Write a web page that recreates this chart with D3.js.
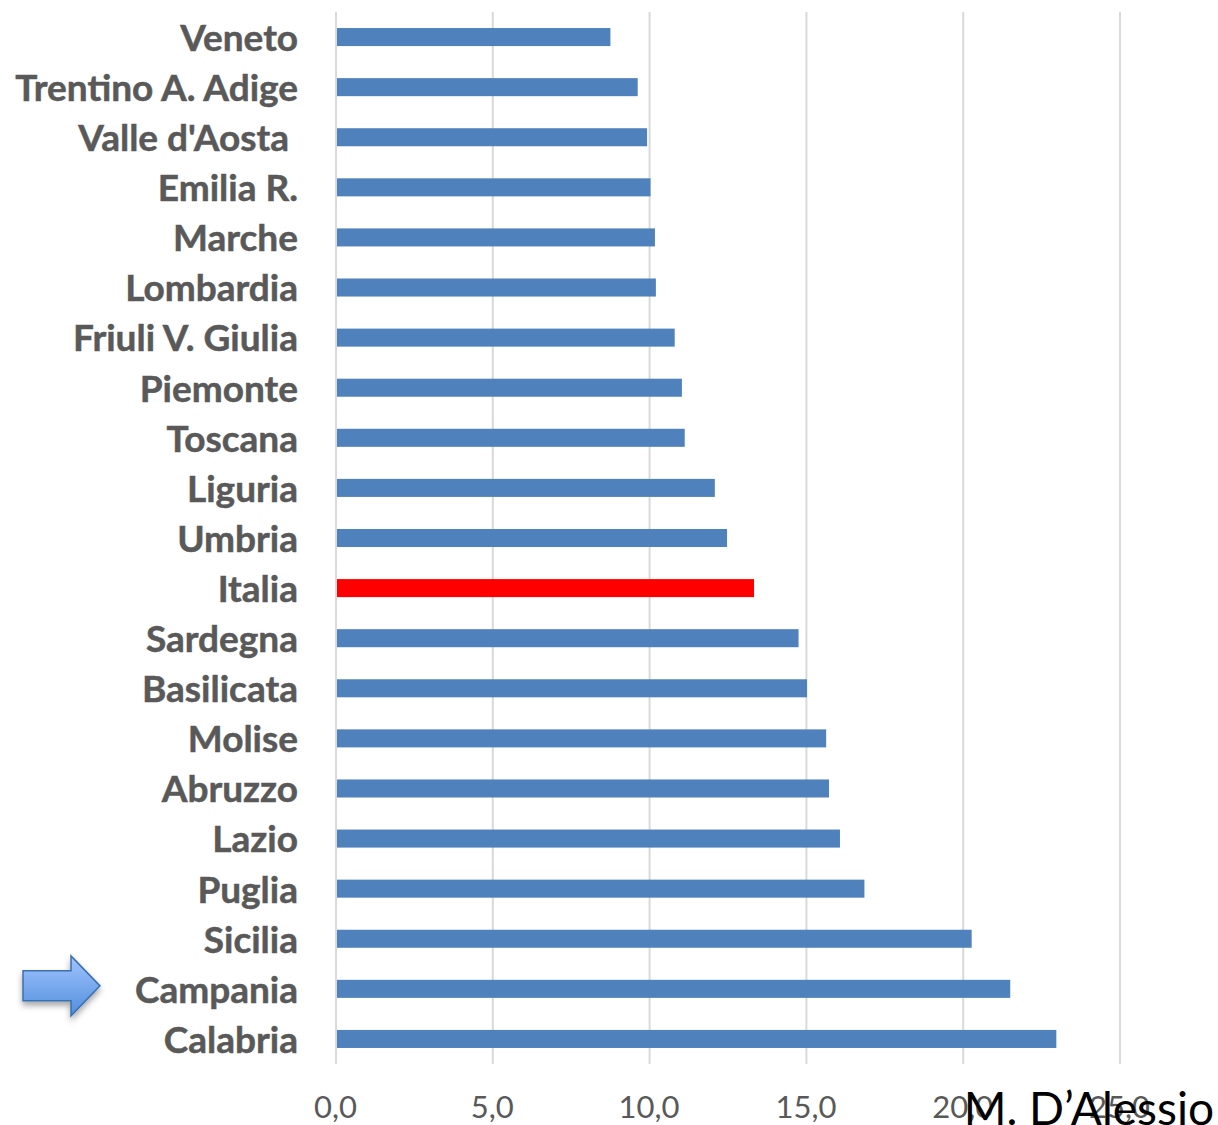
<!DOCTYPE html>
<html>
<head>
<meta charset="utf-8">
<script src="https://cdn.jsdelivr.net/npm/d3@7"></script>
<style>
  html, body { margin: 0; padding: 0; background: #fff; }
  svg { display: block; }
  text { font-family: Lato, "Open Sans", sans-serif; }
</style>
</head>
<body>
<script>
var regions = ["Veneto", "Trentino A. Adige", "Valle d'Aosta ", "Emilia R.", "Marche", "Lombardia",
  "Friuli V. Giulia", "Piemonte", "Toscana", "Liguria", "Umbria", "Italia", "Sardegna", "Basilicata",
  "Molise", "Abruzzo", "Lazio", "Puglia", "Sicilia", "Campania", "Calabria"];
var values = [8.75, 9.62, 9.92, 10.03, 10.17, 10.2, 10.8, 11.03, 11.12, 12.08, 12.47, 13.33, 14.75, 15.02,
  15.63, 15.72, 16.07, 16.85, 20.27, 21.5, 22.97];
var xTicks = [0, 5, 10, 15, 20, 25];
var highlighted = "Italia";
var pointedAt = "Campania";
var credit = "M. D’Alessio";

var width = 1218;
var height = 1125;

var svg = d3.select("body")
  .append("svg")
    .attr("width", width)
    .attr("height", height);

var x = d3.scaleLinear()
  .domain([0, 25])
  .range([336, 1120]);

var y = d3.scaleBand()
  .domain(regions)
  .range([12, 1064])
  .paddingInner(0.64)
  .paddingOuter(0.32);

// gridlines
svg.append("g")
  .selectAll("line")
    .data(xTicks)
  .enter().append("line")
    .attr("x1", function(d) { return x(d); })
    .attr("x2", function(d) { return x(d); })
    .attr("y1", 12)
    .attr("y2", 1064)
    .attr("stroke", "#d9d9d9")
    .attr("stroke-width", 2);

// bars
svg.append("g")
  .selectAll("rect")
    .data(regions)
  .enter().append("rect")
    .attr("x", x(0) + 1)
    .attr("y", function(d) { return y(d); })
    .attr("width", function(d, i) { return x(values[i]) - x(0) - 1; })
    .attr("height", y.bandwidth())
    .attr("fill", function(d) { return d === highlighted ? "#ff0000" : "#4f81bd"; });

// x axis, comma decimals
var xAxis = d3.axisBottom(x)
  .tickValues(xTicks)
  .tickSize(0)
  .tickPadding(0)
  .tickFormat(function(d) { return d3.format(".1f")(d).replace(".", ","); });

var xAxisG = svg.append("g")
  .attr("transform", "translate(-1,1096)")
  .call(xAxis);
xAxisG.select(".domain").remove();
xAxisG.selectAll("text")
  .attr("dy", "0.71em")
  .attr("fill", "#595959")
  .style("font-family", "Lato, sans-serif")
  .style("font-size", "31px");

// y axis labels
var yAxis = d3.axisLeft(y)
  .tickSize(0)
  .tickPadding(0);

var yAxisG = svg.append("g")
  .attr("transform", "translate(298,2)")
  .call(yAxis);
yAxisG.select(".domain").remove();
yAxisG.selectAll("text")
  .attr("fill", "#595959")
  .attr("stroke", "#595959")
  .attr("stroke-width", 0.5)
  .attr("font-weight", "bold")
  .style("white-space", "pre")
  .style("font-family", "Lato, sans-serif")
  .style("font-size", "37px");

// arrow next to Campania
var defs = svg.append("defs");
var gradient = defs.append("linearGradient")
  .attr("id", "arrowFill")
  .attr("x1", 0).attr("y1", 0)
  .attr("x2", 0).attr("y2", 1);
gradient.append("stop").attr("offset", "0%").attr("stop-color", "#a3c4ff");
gradient.append("stop").attr("offset", "100%").attr("stop-color", "#4f8fdc");

var shadow = defs.append("filter")
  .attr("id", "arrowShadow")
  .attr("x", "-20%").attr("y", "-20%")
  .attr("width", "140%").attr("height", "150%");
shadow.append("feDropShadow")
  .attr("dx", 0).attr("dy", 4)
  .attr("stdDeviation", 3)
  .attr("flood-color", "#000")
  .attr("flood-opacity", 0.35);

var arrowY = y(pointedAt) + y.bandwidth() / 2 - 3;
var arrowShape = [[23, -15], [71, -15], [71, -30], [100, 0], [71, 30], [71, 15], [23, 15]];
svg.append("path")
  .attr("d", d3.line()(arrowShape) + "Z")
  .attr("transform", "translate(0," + arrowY + ")")
  .attr("fill", "url(#arrowFill)")
  .attr("stroke", "#3a70b0")
  .attr("stroke-width", 1.5)
  .attr("filter", "url(#arrowShadow)");

// credit sits on top of the axis labels, as in the original
svg.append("text")
  .attr("x", 1214)
  .attr("y", 1125)
  .attr("text-anchor", "end")
  .attr("fill", "#000")
  .style("font-family", "Lato, sans-serif")
  .style("font-size", "46px")
  .text(credit);
</script>
</body>
</html>
